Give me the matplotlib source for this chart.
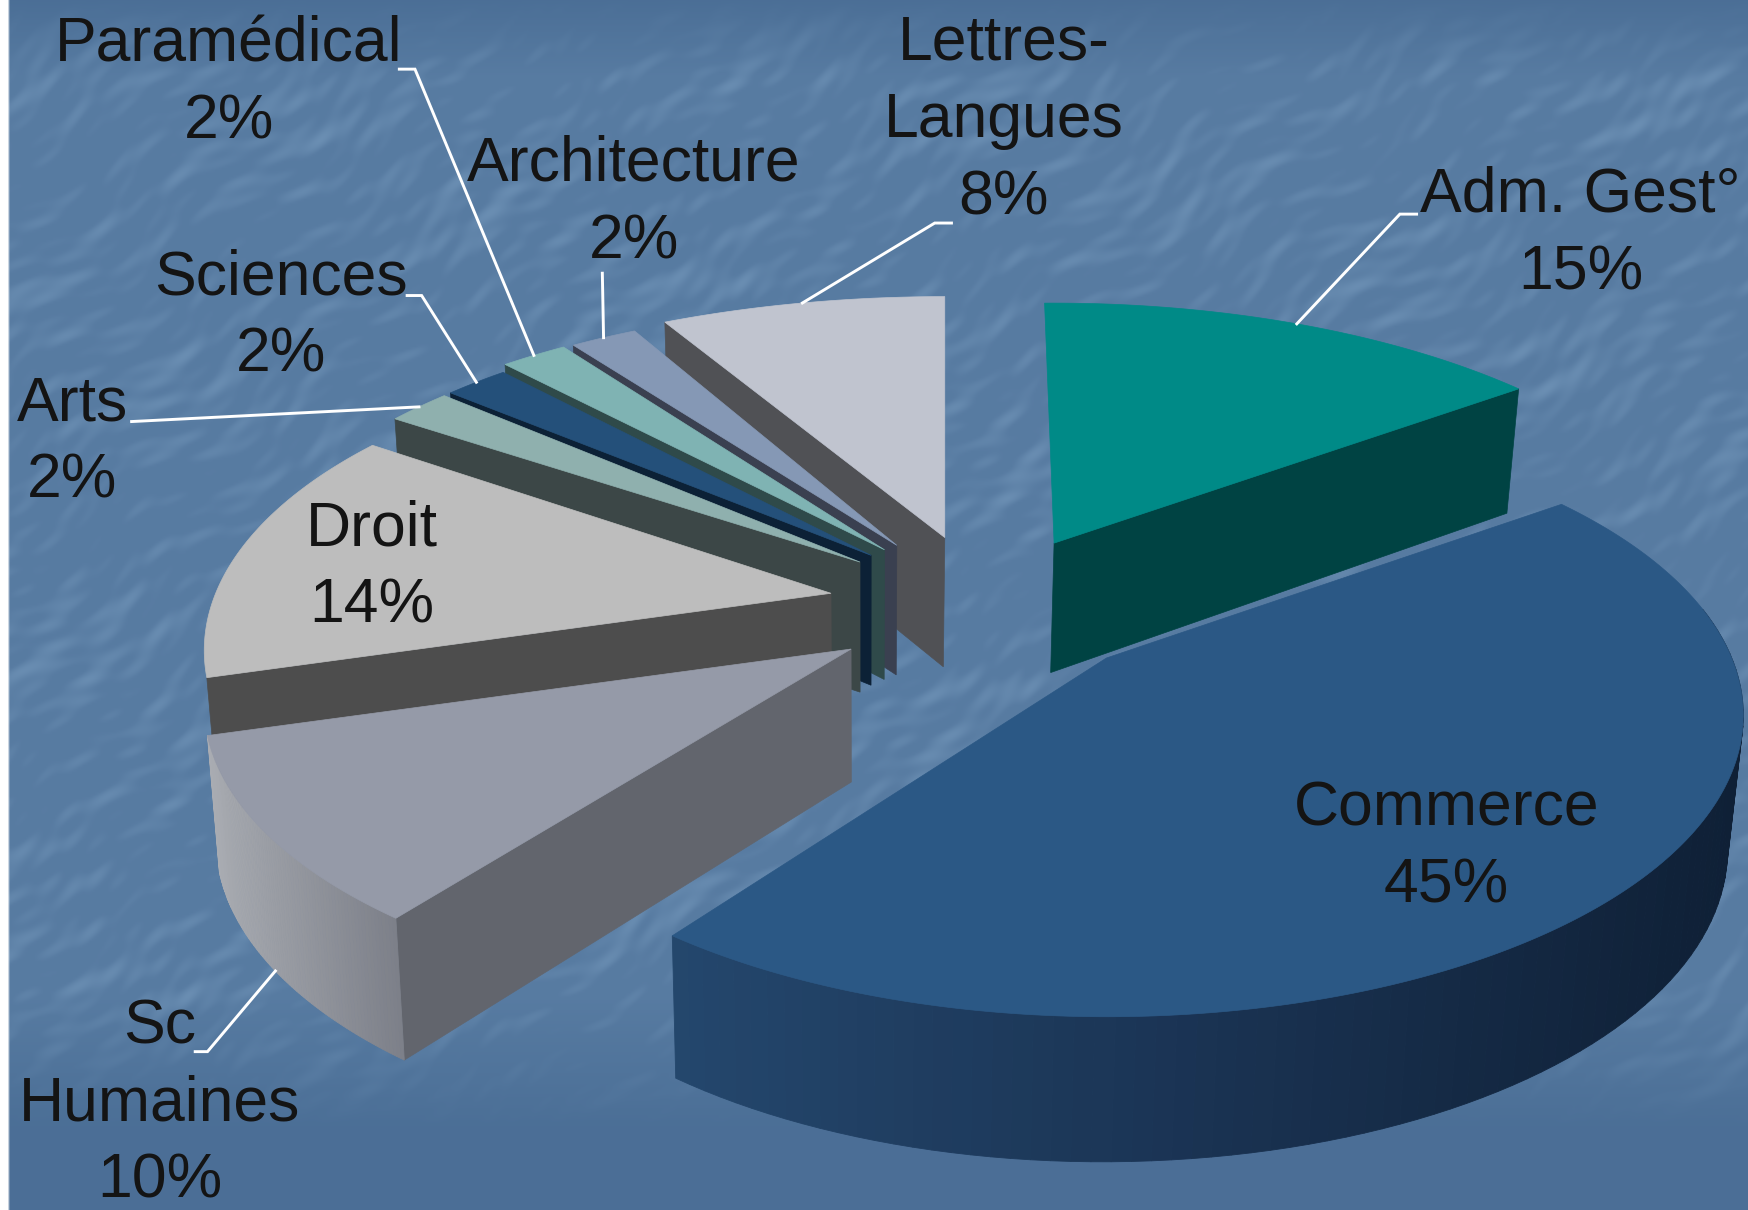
import numpy as np
import matplotlib
matplotlib.use("Agg")
import matplotlib.pyplot as plt
from matplotlib.colors import LinearSegmentedColormap
from matplotlib.patches import Polygon

# slices, clockwise from 12 o'clock
categories = ["Adm. Gest°", "Commerce", "Sc\nHumaines", "Droit", "Arts",
              "Sciences", "Paramédical", "Architecture", "Lettres-\nLangues"]
shares = [15, 45, 10, 14, 2, 2, 2, 2, 8]

top_colors = ["#008a87", "#2b5885", "#959aa8", "#bdbdbd", "#8fb0ae",
              "#24507a", "#7fb3b3", "#8598b5", "#c0c4cf"]
face_colors = ["#004343", "#1a3350", "#62656d", "#4d4d4d", "#3c4747",
               "#0c2136", "#2f4a4a", "#3a4050", "#505155"]
wall_colors = [None, ["#24476d", "#1a3353", "#0f2036"], ["#a9acb2", "#7d8089"],
               None, None, None, None, None, None]

# where each exploded slice has its point, and small per slice corrections
apex = [(945, 487), (992, 590), (763, 582), (745, 532), (771, 504),
        (781, 498), (793, 493), (804, 489), (847, 482)]
radius = [0.985, 0.95, 0.965, 0.935, 0.935, 0.93, 0.965, 0.965, 1.03]
squash = [1.0, 1.055, 1.03, 1.07, 1.06, 1.06, 1.03, 1.02, 0.96]
rotate = [-1, 0, 1.5, 2, 1, 0, 0.3, 0, 0]
draw_order = [8, 7, 6, 5, 4, 3, 0, 2, 1]

# label centre and leader elbow points
label_pos = [(1417, 210), (1297, 760), (143, 990), (333, 509), (65, 397),
             (252, 284), (205, 75), (568, 182), (900, 108)]
leaders = [[(1270, 192), (1255, 192)], None, [(175, 943), (186, 943)], None,
           [(118, 378)], [(365, 265), (378, 265)], [(358, 62), (372, 62)],
           [(540, 245)], [(853, 200), (838, 200)]]

RX, RY, PERSP = 590, 260, 0.19
W, H = 1568, 1085


def rim(i, theta):
    t = np.radians(np.asarray(theta) + rotate[i])
    s = radius[i] / (1 + PERSP * np.cos(t))
    return apex[i][0] + RX * np.sin(t) * s, apex[i][1] - RY * squash[i] * np.cos(t) * s


def drop(x, y):
    # bottom edge: taller toward the viewer, lines lean to a vanishing point
    x, y = np.asarray(x, float), np.asarray(y, float)
    return x + (775 - x) * 0.018, y + 100 + 0.033 * y


def background():
    yy, xx = np.mgrid[0:H:2, 0:W:2]
    u = (xx * 0.82 - yy * 0.57)
    v = (xx * 0.57 + yy * 0.82)
    n = (np.sin(v / 7 + 2 * np.sin(u / 41)) * np.sin(u / 29 + np.sin(v / 23))
         + 0.7 * np.sin(v / 3.1 + 3 * np.sin(u / 31)) * np.sin(u / 13 + 1.7)
         + 0.6 * np.sin(u / 113 + v / 71) * np.sin(v / 37 - u / 83))
    n = np.clip(n, 0, None) / 2.0
    fade = np.clip(yy / 70, 0, 1) * np.clip((1010 - yy) / 120, 0, 1)
    img = np.zeros(xx.shape + (3,))
    for k, (base, amp) in enumerate(zip((0.295, 0.435, 0.590), (0.10, 0.10, 0.09))):
        img[..., k] = base + amp * (0.5 * fade + 0.7 * n * fade)
    img[xx < 7] = 1
    return np.clip(img, 0, 1)


fig = plt.figure(figsize=(17.49, 12.10), dpi=100)
ax = fig.add_axes([0, 0, 1, 1])
ax.imshow(background(), extent=(0, W, H, 0), aspect="auto", interpolation="bilinear")
ax.set_xlim(0, W)
ax.set_ylim(H, 0)
ax.axis("off")

edges = np.cumsum([0] + shares) / sum(shares) * 360

for i in draw_order:
    a0, a1 = edges[i], edges[i + 1]

    # cut faces that look at the viewer
    for ang, show in ((a0, a0 > 180), (a1, a1 < 180)):
        if show:
            rx, ry = rim(i, ang)
            bx, by = drop(rx, ry)
            cx, cy = drop(*apex[i])
            ax.add_patch(Polygon([apex[i], (rx, ry), (bx, by), (cx, cy)],
                                 fc=face_colors[i], ec=face_colors[i], lw=0.5))

    # outer wall, as thin strips so it can carry the shading
    lo, hi = max(a0, 80), min(a1, 270)
    if wall_colors[i] and lo < hi:
        cmap = LinearSegmentedColormap.from_list("wall", wall_colors[i])
        ts = np.linspace(lo, hi, 90)
        xs, ys = rim(i, ts)
        bxs, bys = drop(xs, ys)
        span = xs.max() - xs.min()
        for j in range(len(ts) - 1):
            c = cmap((xs[j] - xs.min()) / span)
            ax.add_patch(Polygon([(xs[j], ys[j]), (xs[j + 1], ys[j + 1]),
                                  (bxs[j + 1], bys[j + 1]), (bxs[j], bys[j])],
                                 fc=c, ec=c, lw=0.6))

    # top
    ts = np.linspace(a0, a1, max(int(a1 - a0) * 2, 8))
    xs, ys = rim(i, ts)
    pts = [apex[i]] + list(zip(xs, ys))
    ax.add_patch(Polygon(pts, fc=top_colors[i], ec=top_colors[i], lw=0.5))

# leader lines run from the label to the middle of the rim
for i, elbow in enumerate(leaders):
    if elbow is None:
        continue
    mid = (edges[i] + edges[i + 1]) / 2
    end = rim(i, mid)
    if categories[i].startswith("Sc\n"):
        end = drop(*end)
    px, py = zip(*(elbow + [end]))
    ax.plot(px, py, color="white", lw=2.1, solid_joinstyle="miter")

for i, (cat, val) in enumerate(zip(categories, shares)):
    ax.text(label_pos[i][0], label_pos[i][1], f"{cat}\n{val}%", ha="center", va="center",
            family="Liberation Sans", fontsize=45, color="#141414", linespacing=1.4)

fig.savefig("out.png", dpi=100)
